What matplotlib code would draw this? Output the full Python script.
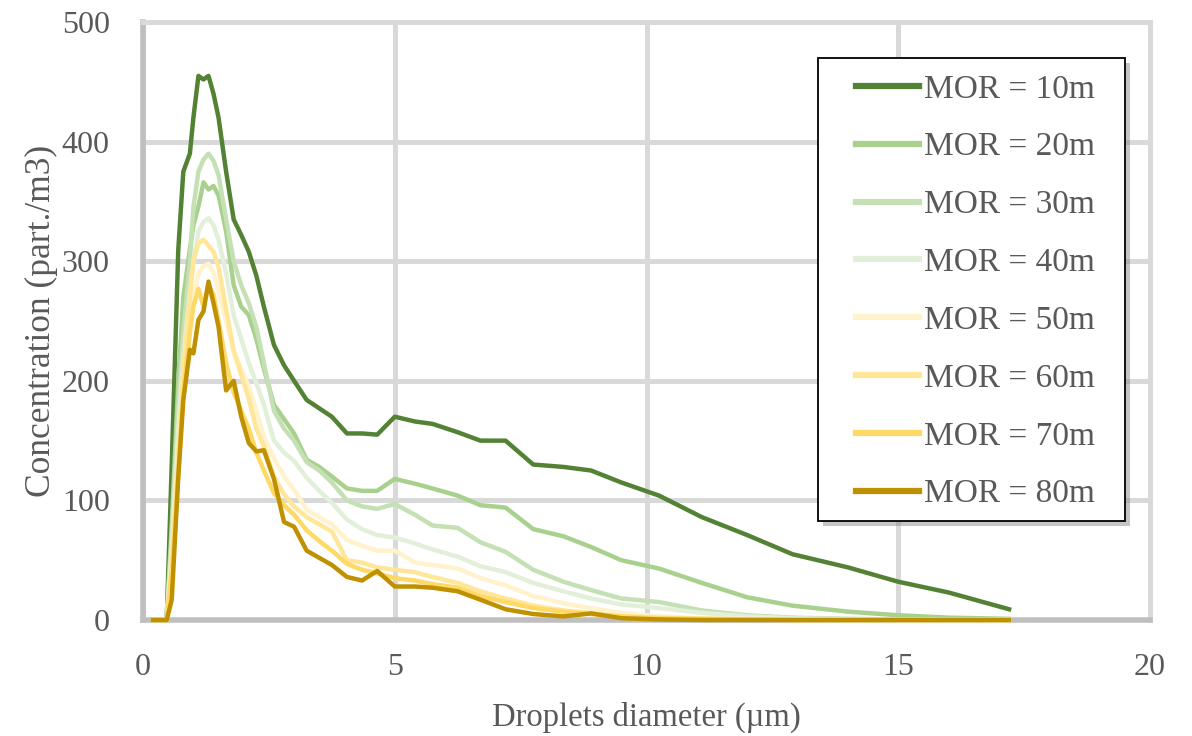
import matplotlib.pyplot as plt
from matplotlib.patches import Rectangle
import numpy as np

# ---- Data ----
diameter = [0.2, 0.47, 0.57, 0.7, 0.8, 0.93, 1.0, 1.1, 1.2, 1.3, 1.4, 1.5, 1.65, 1.8,
            1.95, 2.1, 2.25, 2.4, 2.6, 2.8, 3.0, 3.25, 3.5, 3.75, 4.05, 4.35, 4.65,
            5.0, 5.4, 5.75, 6.25, 6.7, 7.2, 7.75, 8.35, 8.9, 9.5, 10.25, 11.1, 12.0,
            12.9, 14.0, 15.0, 16.0, 17.2]

mor_10 = [0, 0, 130, 310, 375, 390, 420, 455, 452, 455, 440, 420, 375, 335,
          322, 308, 288, 262, 230, 213, 200, 184, 177, 170, 156, 156, 155,
          170, 166, 164, 157, 150, 150, 130, 128, 125, 115, 104, 86, 71,
          55, 44, 32, 23, 9]
mor_20 = [0, 0, 80, 200, 270, 310, 330, 346, 366, 360, 363, 355, 325, 280,
          262, 255, 235, 210, 180, 168, 156, 134, 128, 120, 110, 108, 108,
          118, 114, 110, 104, 96, 94, 76, 70, 61, 50, 43, 31, 19,
          12, 7, 4, 2, 1]
mor_30 = [0, 0, 70, 180, 240, 300, 345, 375, 385, 390, 384, 372, 335, 300,
          280, 265, 245, 215, 175, 160, 150, 132, 125, 115, 100, 95, 93,
          97, 88, 79, 77, 65, 57, 42, 32, 25, 18, 15, 8, 4,
          2, 1, 0.5, 0, 0]
mor_40 = [0, 0, 60, 160, 220, 275, 300, 325, 333, 336, 330, 318, 290, 255,
          235, 215, 198, 180, 150, 140, 133, 119, 108, 98, 84, 76, 71,
          69, 64, 59, 53, 45, 40, 31, 24, 18, 13, 10, 6, 3,
          1.5, 0.5, 0, 0, 0]
mor_50 = [0, 0, 50, 140, 200, 250, 270, 290, 296, 298, 290, 275, 250, 225,
          210, 195, 175, 153, 135, 120, 109, 92, 86, 80, 67, 62, 58,
          58, 48, 46, 43, 35, 29, 20, 14, 10, 6, 3, 1.5, 1,
          0.5, 0, 0, 0, 0]
mor_60 = [0, 0, 45, 140, 210, 270, 300, 315, 318, 313, 308, 295, 260, 225,
          205, 185, 160, 145, 120, 105, 95, 86, 80, 74, 50, 48, 44,
          42, 40, 36, 31, 24, 18, 12, 8, 6, 3, 2, 1, 0.5,
          0, 0, 0, 0, 0]
mor_70 = [0, 0, 40, 120, 190, 240, 262, 277, 262, 280, 272, 250, 215, 190,
          175, 160, 140, 125, 106, 96, 88, 75, 66, 58, 47, 42, 39,
          35, 33, 30, 27, 20, 15, 10, 7, 5, 3, 1.5, 1, 0.5,
          0, 0, 0, 0, 0]
mor_80 = [0, 0, 17, 120, 184, 226, 223, 251, 258, 283, 265, 245, 192, 200,
          170, 148, 141, 142, 118, 82, 78, 58, 52, 46, 36, 33, 41,
          28, 28, 27, 24, 17, 9, 5, 3, 5.5, 1.5, 0.5, 0, 0,
          0, 0, 0, 0, 0]

series = [mor_10, mor_20, mor_30, mor_40, mor_50, mor_60, mor_70, mor_80]
labels = ['MOR = 10m', 'MOR = 20m', 'MOR = 30m', 'MOR = 40m',
          'MOR = 50m', 'MOR = 60m', 'MOR = 70m', 'MOR = 80m']
colors = ['#548235', '#a9d18e', '#c5e0b4', '#e2f0d9',
          '#fff2cc', '#ffe699', '#ffd966', '#bf9000']

plt.rcParams['font.family'] = ['Liberation Serif', 'DejaVu Serif']
text_color = '#595959'

fig = plt.figure(figsize=(11.92, 7.36), dpi=100)
ax = fig.add_axes([0.12, 0.1576, 0.8448, 0.8124])

for y, lab, c in zip(series, labels, colors):
    ax.plot(diameter, y, color=c, lw=3.2, label=lab, solid_joinstyle='round',
            zorder=3, clip_on=False)

ax.set_xlim(0, 20)
ax.set_ylim(0, 500)
ax.set_xticks([0, 5, 10, 15, 20])
ax.set_yticks(np.arange(0, 501, 100))
ax.grid(True, color='#d9d9d9', lw=3.6)
ax.set_axisbelow(True)

for side in ['top', 'right']:
    ax.spines[side].set_color('#d9d9d9')
    ax.spines[side].set_linewidth(3.6)
for side in ['left', 'bottom']:
    ax.spines[side].set_color('#bfbfbf')
    ax.spines[side].set_linewidth(4)

ax.tick_params(length=0, labelsize=23, labelcolor=text_color)
ax.tick_params(axis='x', pad=24)
ax.tick_params(axis='y', pad=24)

ax.set_xlabel('Droplets diameter (µm)', fontsize=23.5, color=text_color, labelpad=14)
ax.set_ylabel('Concentration (part./m3)', fontsize=25.5, color=text_color, labelpad=3)

# legend box drawn by hand (with a soft shadow), entries placed inside it
box_x, box_y, box_w, box_h = 0.6703, 0.1656, 0.3049, 0.7742
shadow = Rectangle((box_x + 0.005, box_y - 0.008), box_w, box_h, transform=ax.transAxes,
                   facecolor='#7f7f7f', edgecolor='none', alpha=0.45, zorder=5)
frame = Rectangle((box_x, box_y), box_w, box_h, transform=ax.transAxes,
                  facecolor='white', edgecolor='black', lw=1.3, zorder=6)
ax.add_patch(shadow)
ax.add_patch(frame)

leg = ax.legend(loc='upper left', bbox_to_anchor=(0.708, 0.913), borderaxespad=0,
                frameon=False, fontsize=24, labelspacing=0.82, borderpad=0,
                handlelength=1.9, handletextpad=0.15)
leg.set_zorder(7)
for t in leg.get_texts():
    t.set_color(text_color)
for h in leg.get_lines():
    h.set_linewidth(4.5)

fig.savefig('out.png', dpi=100)
